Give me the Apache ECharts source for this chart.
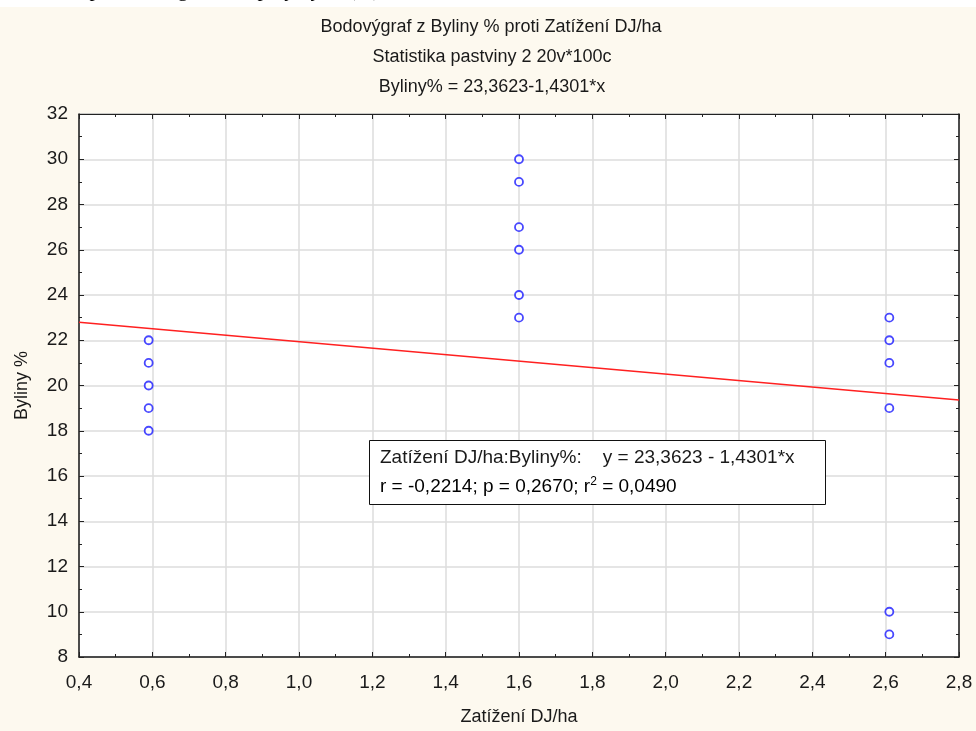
<!DOCTYPE html>
<html>
<head>
<meta charset="utf-8">
<script src="https://cdn.jsdelivr.net/npm/echarts@6/dist/echarts.min.js"></script>
<style>
  html, body { margin: 0; padding: 0; background: #fdf9ef; }
  #chart { width: 976px; height: 731px; }
</style>
</head>
<body>
<div id="chart"></div>
<script>
// Pastviny: zastoupení bylin (%) podle zatížení (DJ/ha)
const titleLines = [
  'Bodovýgraf z Byliny % proti Zatížení DJ/ha',
  'Statistika pastviny 2 20v*100c',
  'Byliny% = 23,3623-1,4301*x'
];
const xAxisName = 'Zatížení DJ/ha';
const yAxisName = 'Byliny %';

// measured points: [zatížení DJ/ha, byliny %]
const load = [0.59, 0.59, 0.59, 0.59, 0.59,
              1.6, 1.6, 1.6, 1.6, 1.6, 1.6,
              2.61, 2.61, 2.61, 2.61, 2.61, 2.61];
const herbs = [22, 21, 20, 19, 18,
               30, 29, 27, 26, 24, 23,
               23, 22, 21, 19, 10, 9];

// fitted regression y = a + b*x (as stated in the legend box)
const intercept = 23.3623;
const slope = -1.4301;
const fitRange = [0.4, 2.8];

const statLine1 = 'Zatížení DJ/ha:Byliny%:    y = 23,3623 - 1,4301*x';
const statLine2a = 'r = -0,2214; p = 0,2670; r';
const statLine2b = ' = 0,0490';

const xMin = 0.4, xMax = 2.8, xStep = 0.2;
const yMin = 8, yMax = 32, yStep = 2;

const font = '"Liberation Sans", Arial, sans-serif';
const textColor = '#1a1a1a';

const points = load.map((x, i) => [x, herbs[i]]);
const fitLine = fitRange.map(x => [x, intercept + slope * x]);

const chart = echarts.init(document.getElementById('chart'), null, { renderer: 'canvas' });

const fmt = v => v.toFixed(1).replace('.', ',');

const commonTick = { show: true, inside: true, length: 5, lineStyle: { color: '#222', width: 1 } };
const commonMinor = { show: true, splitNumber: 2, length: 3, lineStyle: { color: '#222', width: 1 } };

chart.setOption({
  backgroundColor: '#fdf9ef',
  animation: false,
  grid: {
    left: 79, right: 17, top: 114, bottom: 74,
    show: true, backgroundColor: '#ffffff', borderColor: '#222', borderWidth: 1
  },
  xAxis: [{
    type: 'value', min: xMin, max: xMax, interval: xStep,
    name: xAxisName, nameLocation: 'middle', nameGap: 51,
    nameTextStyle: { fontFamily: font, fontSize: 18, color: textColor },
    axisLine: { show: true, onZero: false, lineStyle: { color: '#222', width: 1.5 } },
    axisTick: commonTick, minorTick: commonMinor,
    axisLabel: { fontFamily: font, fontSize: 19, color: textColor, margin: 16, formatter: fmt },
    splitLine: { show: true, lineStyle: { color: '#dcdcdc', width: 1.5 } }
  }, {
    type: 'value', min: xMin, max: xMax, interval: xStep, position: 'top',
    axisLine: { show: true, lineStyle: { color: '#222', width: 1 } },
    axisTick: commonTick, minorTick: commonMinor,
    axisLabel: { show: false }, splitLine: { show: false }
  }],
  yAxis: [{
    type: 'value', min: yMin, max: yMax, interval: yStep,
    name: yAxisName, nameLocation: 'middle', nameGap: 48,
    nameTextStyle: { fontFamily: font, fontSize: 18, color: textColor },
    axisLine: { show: true, onZero: false, lineStyle: { color: '#222', width: 1.5 } },
    axisTick: commonTick, minorTick: commonMinor,
    axisLabel: { fontFamily: font, fontSize: 19, color: textColor, margin: 11 },
    splitLine: { show: true, lineStyle: { color: '#dcdcdc', width: 1.5 } }
  }, {
    type: 'value', min: yMin, max: yMax, interval: yStep, position: 'right',
    axisLine: { show: true, lineStyle: { color: '#222', width: 1.5 } },
    axisTick: commonTick, minorTick: commonMinor,
    axisLabel: { show: false }, splitLine: { show: false }
  }],
  series: [{
    name: 'fit', type: 'line', data: fitLine, symbol: 'none',
    lineStyle: { color: '#ff2020', width: 1.5 }, z: 3, silent: true
  }, {
    name: 'Byliny %', type: 'scatter', data: points,
    symbol: 'circle', symbolSize: 8,
    itemStyle: { color: '#ffffff', borderColor: '#1a1aff', borderWidth: 1.8 }, z: 4
  }],
  graphic: [
    // clipped caption line of the surrounding page
    { type: 'rect', left: 0, top: 0, shape: { width: 976, height: 7 }, style: { fill: '#ffffff' }, z: 10 },
    { type: 'text', x: 380, y: 1, z: 11,
      style: { text: 'Graf 5: Zastoupení ekologické skupiny bylin (%)', fill: '#000',
               font: '21px "Liberation Serif", serif', textAlign: 'right', textVerticalAlign: 'bottom' } },
    // chart titles
    { type: 'text', x: 491, y: 27, z: 11,
      style: { text: titleLines[0], fill: textColor, font: '18px ' + font, textAlign: 'center', textVerticalAlign: 'middle' } },
    { type: 'text', x: 492, y: 57, z: 11,
      style: { text: titleLines[1], fill: textColor, font: '18px ' + font, textAlign: 'center', textVerticalAlign: 'middle' } },
    { type: 'text', x: 492, y: 87, z: 11,
      style: { text: titleLines[2], fill: textColor, font: '18px ' + font, textAlign: 'center', textVerticalAlign: 'middle' } },
    // regression statistics box
    { type: 'rect', left: 369, top: 440, z: 20,
      shape: { width: 456, height: 64 }, style: { fill: '#ffffff', stroke: '#111', lineWidth: 1 } },
    { type: 'text', x: 380, y: 458, z: 21,
      style: { text: statLine1, fill: textColor, font: '19px ' + font, textVerticalAlign: 'middle' } },
    { type: 'text', x: 380, y: 487, z: 21,
      style: {
        text: '{a|' + statLine2a + '}{s|2}{a|' + statLine2b + '}',
        textVerticalAlign: 'middle',
        rich: {
          a: { fontFamily: font, fontSize: 19, color: textColor },
          s: { fontFamily: font, fontSize: 12, color: textColor, verticalAlign: 'top', padding: [0, 0, 10, 0] }
        }
      } }
  ]
});
</script>
</body>
</html>
